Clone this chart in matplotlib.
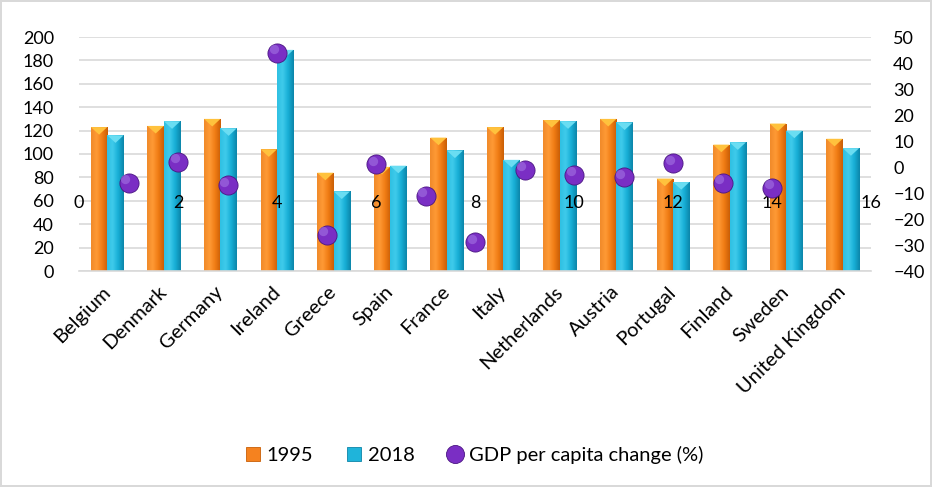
import matplotlib
matplotlib.use("Agg")
import matplotlib.pyplot as plt
import matplotlib.transforms as mtransforms
from matplotlib.colors import LinearSegmentedColormap
from matplotlib.patches import Polygon
from matplotlib.lines import Line2D
import numpy as np

countries = ["Belgium", "Denmark", "Germany", "Ireland", "Greece", "Spain", "France",
             "Italy", "Netherlands", "Austria", "Portugal", "Finland", "Sweden", "United Kingdom"]
v1995 = [123, 124, 130, 104, 84, 89, 114, 123, 129, 130, 79, 108, 126, 113]
v2018 = [116, 128, 122, 189, 68, 90, 103, 95, 128, 127, 76, 110, 120, 105]
gdp_x = [1, 2, 3, 4, 5, 6, 7, 8, 9, 10, 11, 12, 13, 14]
gdp_change = [-6, 2, -7, 44, -26, 1, -11, -29, -1, -3, -4, 1.5, -6, -8]

left_ticks = list(range(0, 201, 20))
right_ticks = list(range(-40, 51, 10))
sec_x_ticks = list(range(0, 17, 2))

plt.rcParams['font.family'] = ['Lato', 'DejaVu Sans']

W, H = 932, 487
fig = plt.figure(figsize=(W / 100, H / 100), dpi=100)
fig.patch.set_facecolor('white')
fig.patch.set_edgecolor('#d9d9d9')
fig.patch.set_linewidth(1.5)

pos = [79 / W, 1 - 271 / H, (871 - 79) / W, (271 - 37) / H]
ax = fig.add_axes(pos)
x = np.arange(len(countries))
bw = 0.29
orange = '#F5821F'
cyan = '#1FB4DA'
purple = '#7A2EC4'

cmap_o = LinearSegmentedColormap.from_list('o', ['#F08A2A', '#FF9A35', '#F07C14', '#C95E06'])
cmap_c = LinearSegmentedColormap.from_list('c', ['#2FC0E2', '#3FCBEB', '#17AED6', '#0C85A8'])

b1 = ax.bar(x - bw / 2, v1995, bw, color=orange, linewidth=0, zorder=2)
b2 = ax.bar(x + bw / 2, v2018, bw, color=cyan, linewidth=0, zorder=2)
ax.set_xlim(-0.5, len(countries) - 0.5)
ax.set_ylim(0, 200)

grad = np.linspace(0, 1, 64).reshape(1, -1)
cap_h = 6.5
for bars, cmap, capc in [(b1, cmap_o, '#FFC23D'), (b2, cmap_c, '#6ADDF2')]:
    for p in bars:
        x0, w, h = p.get_x(), p.get_width(), p.get_height()
        im = ax.imshow(grad, cmap=cmap, extent=[x0, x0 + w, 0, h], aspect='auto',
                       zorder=2.1, interpolation='bicubic')
        im.set_clip_path(p)
        tri = Polygon([[x0, h], [x0 + w, h], [x0 + w / 2, h - cap_h]], closed=True,
                      facecolor=capc, edgecolor='none', zorder=2.2)
        ax.add_patch(tri)
ax.set_xlim(-0.5, len(countries) - 0.5)
ax.set_ylim(0, 200)
ax.set_aspect('auto')

ax.set_yticks(left_ticks)
ax.yaxis.grid(True, color='#d9d9d9', linewidth=1.2)
ax.set_axisbelow(True)
for s in ['top', 'right', 'left']:
    ax.spines[s].set_visible(False)
ax.spines['bottom'].set_color('#d9d9d9')
ax.spines['bottom'].set_linewidth(1.2)
ax.tick_params(axis='y', length=0, pad=18, labelsize=13)
ax.tick_params(axis='x', length=0, pad=13, labelsize=14.5)
ax.set_xticks(x)
ax.set_xticklabels(countries, rotation=45, ha='right', va='center', rotation_mode='anchor')

ax2 = fig.add_axes(pos, frameon=False)
ax2.patch.set_visible(False)
ax2.set_xlim(0, 16)
ax2.set_ylim(-40, 50)
ax2.yaxis.tick_right()
ax2.set_yticks(right_ticks)
ax2.tick_params(axis='y', length=0, pad=16, labelsize=13)
ax2.set_xticks(sec_x_ticks)
ax2.spines['bottom'].set_position(('data', -10.3))
ax2.tick_params(axis='x', length=0, pad=1, labelsize=13)
sc = ax2.scatter(gdp_x, gdp_change, s=190, color=purple, edgecolor='#4A1582', linewidth=0.6, zorder=3)
hl = mtransforms.offset_copy(ax2.transData, fig=fig, x=-2.5, y=2.5, units='points')
ax2.scatter(gdp_x, gdp_change, s=45, color='#A779E6', alpha=0.55, linewidth=0, zorder=3.1, transform=hl)

h1 = Line2D([], [], linestyle='none', marker='s', markersize=10, markerfacecolor=orange,
            markeredgecolor='#C95E06', markeredgewidth=0.6)
h2 = Line2D([], [], linestyle='none', marker='s', markersize=10, markerfacecolor=cyan,
            markeredgecolor='#0C85A8', markeredgewidth=0.6)
h3 = Line2D([], [], linestyle='none', marker='o', markersize=13, markerfacecolor=purple,
            markeredgecolor='#4A1582', markeredgewidth=0.6)
fig.legend([h1, h2, h3], ['1995', '2018', 'GDP per capita change (%)'],
           loc='center', bbox_to_anchor=(474 / W, 1 - 455 / H), ncol=3, frameon=False,
           fontsize=14.5, handlelength=0.8, handletextpad=0.3, columnspacing=1.6)

fig.savefig('out.png', dpi=100)
